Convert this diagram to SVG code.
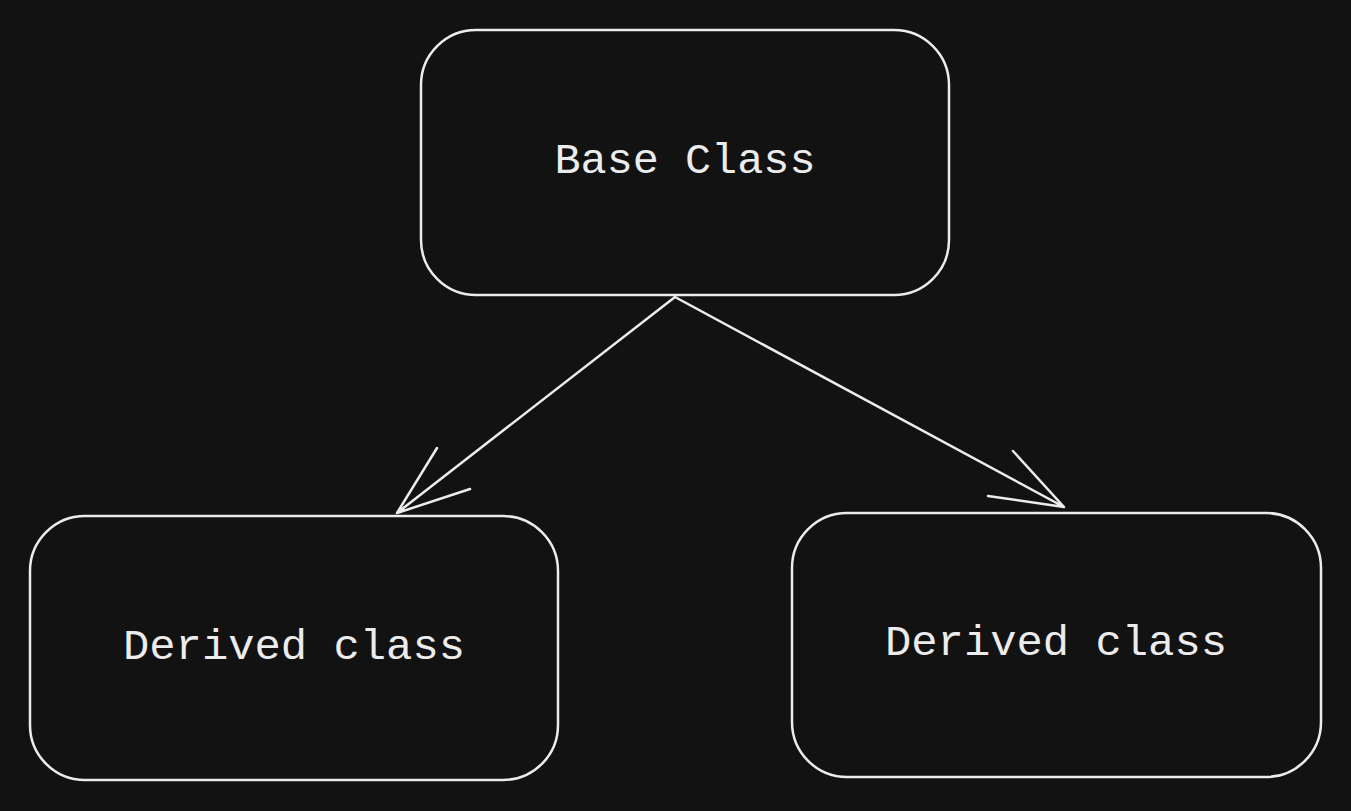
<svg xmlns="http://www.w3.org/2000/svg" width="1351" height="811" viewBox="0 0 1351 811">
<style>
.box{fill:none;stroke:#ececec;stroke-width:2.5}
.lbl{fill:#ececec;font-family:"Liberation Mono","DejaVu Sans Mono",monospace;font-size:42px;text-anchor:middle;dominant-baseline:central}
.conn{fill:none;stroke:#ececec;stroke-width:2.5;stroke-linecap:round;stroke-linejoin:round}
</style>
<rect width="1351" height="811" fill="#121212"/>
<g id="base">
<rect class="box" x="421" y="30" width="528" height="265" rx="55"/>
<text class="lbl" x="685" y="162" textLength="261" lengthAdjust="spacingAndGlyphs">Base Class</text>
</g>
<g id="derived-left">
<rect class="box" x="30" y="516" width="528" height="264" rx="55"/>
<text class="lbl" x="294" y="648" textLength="342" lengthAdjust="spacingAndGlyphs">Derived class</text>
</g>
<g id="derived-right">
<rect class="box" x="792" y="513" width="529" height="264" rx="55"/>
<text class="lbl" x="1056" y="644" textLength="342" lengthAdjust="spacingAndGlyphs">Derived class</text>
</g>
<g id="connectors">
<path class="conn" d="M675 297 L397 513 M437 448 L397 513 L470 489"/>
<path class="conn" d="M675 297 L1064 507 M1013 451 L1064 507 L988 496"/>
</g>
</svg>
